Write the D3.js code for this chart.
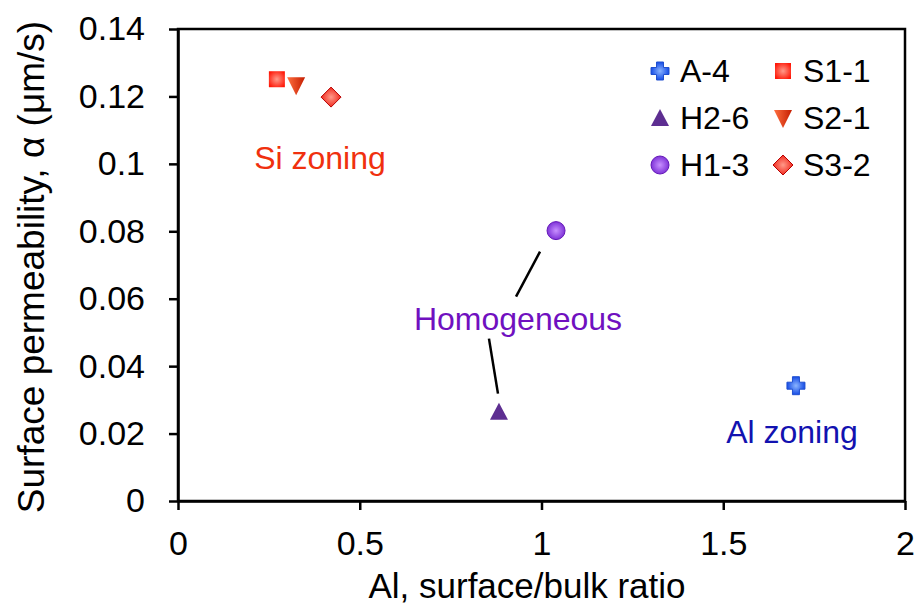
<!DOCTYPE html>
<html>
<head>
<meta charset="utf-8">
<script src="https://cdn.jsdelivr.net/npm/d3@7"></script>
<style>
  body { margin: 0; background: #fff; }
  svg text { font-family: "Liberation Sans", Arial, sans-serif; }
</style>
</head>
<body>
<svg id="chart"></svg>
<script>
const width = 919;
const height = 607;

// data
const names = ['A-4', 'H2-6', 'H1-3', 'S1-1', 'S2-1', 'S3-2'];
const xValues = [1.70, 0.883, 1.04, 0.272, 0.325, 0.421];
const yValues = [0.0342, 0.0265, 0.0802, 0.1251, 0.1233, 0.1198];
const shapes = ['cross', 'triangle', 'circle', 'square', 'down', 'diamond'];
const xTicks = [0, 0.5, 1, 1.5, 2];
const yTicks = [0, 0.02, 0.04, 0.06, 0.08, 0.1, 0.12, 0.14];

const margin = { left: 178, right: 14, top: 29, bottom: 106 };
const innerW = width - margin.left - margin.right;
const innerH = height - margin.top - margin.bottom;

const svg = d3.select('#chart')
  .attr('width', width)
  .attr('height', height);

const defs = svg.append('defs');

function radial(id, inner, outer) {
  const g = defs.append('radialGradient').attr('id', id)
    .attr('cx', '50%').attr('cy', '50%').attr('r', '60%');
  g.append('stop').attr('offset', '0%').attr('stop-color', inner);
  g.append('stop').attr('offset', '100%').attr('stop-color', outer);
}
radial('gCross', '#8ab4ff', '#0038e0');
radial('gCircle', '#c890ff', '#7020d0');
radial('gSquare', '#ff9a8a', '#ff1808');
radial('gDiamond', '#ff9a8a', '#ee1408');
const lin = defs.append('linearGradient').attr('id', 'gDown')
  .attr('x1', '0%').attr('x2', '100%').attr('y1', '0%').attr('y2', '0%');
lin.append('stop').attr('offset', '0%').attr('stop-color', '#ff7040');
lin.append('stop').attr('offset', '100%').attr('stop-color', '#c41c00');

const styles = {
  cross: { fill: 'url(#gCross)', stroke: '#2050d0' },
  triangle: { fill: '#5d2e91', stroke: 'none' },
  circle: { fill: 'url(#gCircle)', stroke: '#6418b8' },
  square: { fill: 'url(#gSquare)', stroke: 'none' },
  down: { fill: 'url(#gDown)', stroke: 'none' },
  diamond: { fill: 'url(#gDiamond)', stroke: '#b80000' }
};

function markerPath(shape) {
  if (shape === 'cross') return 'M-3.5,-9H3.5V-3.5H9V3.5H3.5V9H-3.5V3.5H-9V-3.5H-3.5Z';
  if (shape === 'triangle') return 'M0,-9L9,8H-9Z';
  if (shape === 'circle') return 'M9,0A9,9 0 1,1 -9,0A9,9 0 1,1 9,0Z';
  if (shape === 'square') return 'M-8,-8H8V8H-8Z';
  if (shape === 'down') return 'M-9,-8H9L0,10Z';
  return 'M0,-10L10,0L0,10L-10,0Z';
}

const g = svg.append('g')
  .attr('transform', `translate(${margin.left},${margin.top})`);

const x = d3.scaleLinear().domain([0, 2]).range([0, innerW]);
const y = d3.scaleLinear().domain([0, 0.14]).range([innerH, 0]);

// frame
g.append('rect')
  .attr('width', innerW).attr('height', innerH)
  .attr('fill', 'none').attr('stroke', '#000').attr('stroke-width', 2.5);

const yAxis = g.append('g')
  .call(d3.axisLeft(y).tickValues(yTicks).tickFormat(d => String(d))
    .tickSize(9).tickSizeOuter(0).tickPadding(24));

const xAxis = g.append('g')
  .attr('transform', `translate(0,${innerH})`)
  .call(d3.axisBottom(x).tickValues(xTicks).tickFormat(d => String(d))
    .tickSize(9).tickSizeOuter(0).tickPadding(21));

[yAxis, xAxis].forEach(a => {
  a.select('.domain').attr('stroke', '#000').attr('stroke-width', 2.5);
  a.selectAll('.tick line').attr('stroke', '#000').attr('stroke-width', 2.5);
  a.selectAll('.tick text').attr('fill', '#000')
    .style('font-size', '34px').style('font-family', '"Liberation Sans", Arial, sans-serif');
});

// axis titles
svg.append('text')
  .attr('x', 527).attr('y', 598)
  .attr('text-anchor', 'middle')
  .style('font-size', '35px')
  .text('Al, surface/bulk ratio');

svg.append('text')
  .attr('transform', 'translate(44,267) rotate(-90)')
  .attr('text-anchor', 'middle')
  .style('font-size', '37px')
  .text('Surface permeability, α (μm/s)');

// leader lines for "Homogeneous"
const leaders = [
  [[1.04, 0.0802], [-16, 21], [-40, 66]],
  [[0.883, 0.0265], [-10, -73], [-1, -18]]
];
leaders.forEach(([p, a, b]) => {
  g.append('line')
    .attr('x1', x(p[0]) + a[0]).attr('y1', y(p[1]) + a[1])
    .attr('x2', x(p[0]) + b[0]).attr('y2', y(p[1]) + b[1])
    .attr('stroke', '#000').attr('stroke-width', 2.5);
});

// points
g.selectAll('path.pt')
  .data(names)
  .enter()
  .append('path')
  .attr('class', 'pt')
  .attr('d', (d, i) => markerPath(shapes[i]))
  .attr('transform', (d, i) => `translate(${x(xValues[i])},${y(yValues[i])})`)
  .attr('fill', (d, i) => styles[shapes[i]].fill)
  .attr('stroke', (d, i) => styles[shapes[i]].stroke)
  .attr('stroke-width', 1);

// group annotations
const notes = [
  { text: 'Si zoning', x: 320, y: 169, color: '#f0300e' },
  { text: 'Homogeneous', x: 518, y: 330, color: '#7010c0' },
  { text: 'Al zoning', x: 792, y: 443, color: '#1212b0' }
];
svg.selectAll('text.note')
  .data(notes)
  .enter()
  .append('text')
  .attr('class', 'note')
  .attr('x', d => d.x).attr('y', d => d.y)
  .attr('text-anchor', 'middle')
  .attr('fill', d => d.color)
  .style('font-size', '32px')
  .text(d => d.text);

// legend, two columns of three
const legend = svg.append('g');
names.forEach((name, i) => {
  const col = Math.floor(i / 3);
  const row = i % 3;
  const lx = 660 + col * 123;
  const ly = 71 + row * 47;
  legend.append('path')
    .attr('d', markerPath(shapes[i]))
    .attr('transform', `translate(${lx},${ly})`)
    .attr('fill', styles[shapes[i]].fill)
    .attr('stroke', styles[shapes[i]].stroke)
    .attr('stroke-width', 1);
  legend.append('text')
    .attr('x', lx + 20).attr('y', ly + 11)
    .style('font-size', '32px')
    .text(name);
});
</script>
</body>
</html>
